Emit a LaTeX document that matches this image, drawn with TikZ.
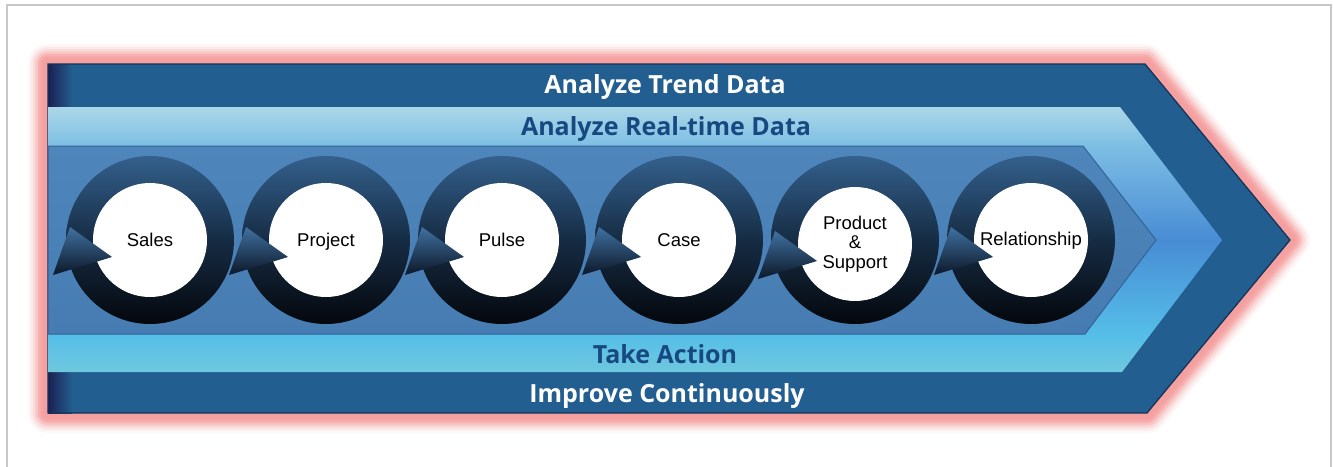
\documentclass[tikz,border=0pt]{standalone}
\usepackage{fontspec}
\setmainfont{Liberation Sans}
\newfontfamily\bandfont{Open Sans}
\usetikzlibrary{calc}

\definecolor{framegray}{RGB}{200,200,200}
\definecolor{glow}{RGB}{245,160,160}
\definecolor{bandDark}{RGB}{34,94,143}
\definecolor{bandEdge}{RGB}{20,52,88}
\definecolor{bandNavy}{RGB}{26,32,82}
\definecolor{lightA}{RGB}{172,216,232}
\definecolor{lightB}{RGB}{125,190,228}
\definecolor{lightC}{RGB}{72,140,212}
\definecolor{lightD}{RGB}{85,190,232}
\definecolor{lightE}{RGB}{112,200,222}
\definecolor{panelTop}{RGB}{78,134,188}
\definecolor{panelBot}{RGB}{70,124,178}
\definecolor{panelEdge}{RGB}{50,100,150}
\definecolor{ringTop}{RGB}{52,96,140}
\definecolor{ringMid}{RGB}{22,44,68}
\definecolor{ringBot}{RGB}{4,7,12}
\definecolor{headTop}{RGB}{64,112,160}
\definecolor{headBot}{RGB}{12,24,40}
\definecolor{titleDark}{RGB}{24,72,128}

% chevron outlines, in pixel units with y pointing down
\def\outerchev{(48,64) -- (1145,64) -- (1290,240) -- (1147,413) -- (48,413) -- cycle}
\def\lightchev{(48,107) -- (1120,107) -- (1222,240) -- (1122,372) -- (48,372) -- cycle}
\def\panelchev{(48,146) -- (1083,146) -- (1156,240) -- (1085,334) -- (48,334) -- cycle}

% one stage of the cycle: shaded ring, white disc with label, arrow head
\newcommand\cyclestage[4][]{%
  \shade[ringshade] (#2,240) circle[radius=84];
  \node[stagedisc,#1] (#3) at (#2,240) {#4};
  \shade[headshade] ($(#3)+(-97,35)$) -- ($(#3)+(-80,-13)$) -- ($(#3)+(-38,17)$) -- cycle;
}

\tikzset{
  ringshade/.style={top color=ringTop, bottom color=ringBot, middle color=ringMid},
  headshade/.style={top color=headTop, bottom color=headBot},
  stagedisc/.style={circle, fill=white, minimum size=114pt, inner sep=0pt,
    text height=14pt, text depth=2pt,
    align=center, font=\fontsize{18.5}{19.5}\selectfont, text=black},
  bandtitle/.style={anchor=base, font=\bandfont\bfseries\fontsize{25}{30}\selectfont},
}

\begin{document}
\begin{tikzpicture}[x=1pt, y=-1pt]
\useasboundingbox (0,0) rectangle (1333,466);
\fill[white] (0,0) rectangle (1333,466);

% thin grey frame
\draw[framegray, line width=2pt] (7,470) -- (7,5) -- (1331,5) -- (1331,470);

% soft pink glow round the outer arrow
\foreach \w/\o in {40/0.08, 35/0.14, 30/0.22, 25/0.36, 20/0.55, 15/0.8, 10/1}
  \draw[glow, line width=\w pt, opacity=\o, line join=round] \outerchev;

% outer dark arrow
\fill[bandDark] \outerchev;
\shade[left color=bandNavy, right color=bandDark] (48,64) rectangle (72,413);
\draw[bandEdge, line width=1.3pt] \outerchev;

% light arrow with its vertical colour run
\begin{scope}
  \clip \lightchev;
  \shade[top color=lightA, bottom color=lightB] (40,106) rectangle (1230,146);
  \shade[top color=lightB, bottom color=lightC] (40,146) rectangle (1230,240);
  \shade[top color=lightC, bottom color=lightD] (40,240) rectangle (1230,335);
  \shade[top color=lightD, bottom color=lightE] (40,335) rectangle (1230,373);
\end{scope}

% middle panel
\shade[top color=panelTop, bottom color=panelBot] \panelchev;
\draw[panelEdge, line width=1pt] \panelchev;

% band titles
\node[bandtitle, text=white] (trend) at (665,93) {Analyze Trend Data};
\node[bandtitle, text=titleDark] (realtime) at (666,135) {Analyze Real-time Data};
\node[bandtitle, text=titleDark] (action) at (665,363) {Take Action};
\node[bandtitle, text=white] (improve) at (667,402) {Improve Continuously};

% the six stages
\cyclestage{150}{sales}{Sales}
\cyclestage{326}{project}{Project}
\cyclestage{502}{pulse}{Pulse}
\cyclestage{679}{case}{Case}
\cyclestage[text height=, text depth=, yshift=-4pt]{855}{product}{Product\\\&\\Support}
\cyclestage[text height=13pt, text depth=3pt]{1031}{relationship}{Relationship}

\end{tikzpicture}
\end{document}
